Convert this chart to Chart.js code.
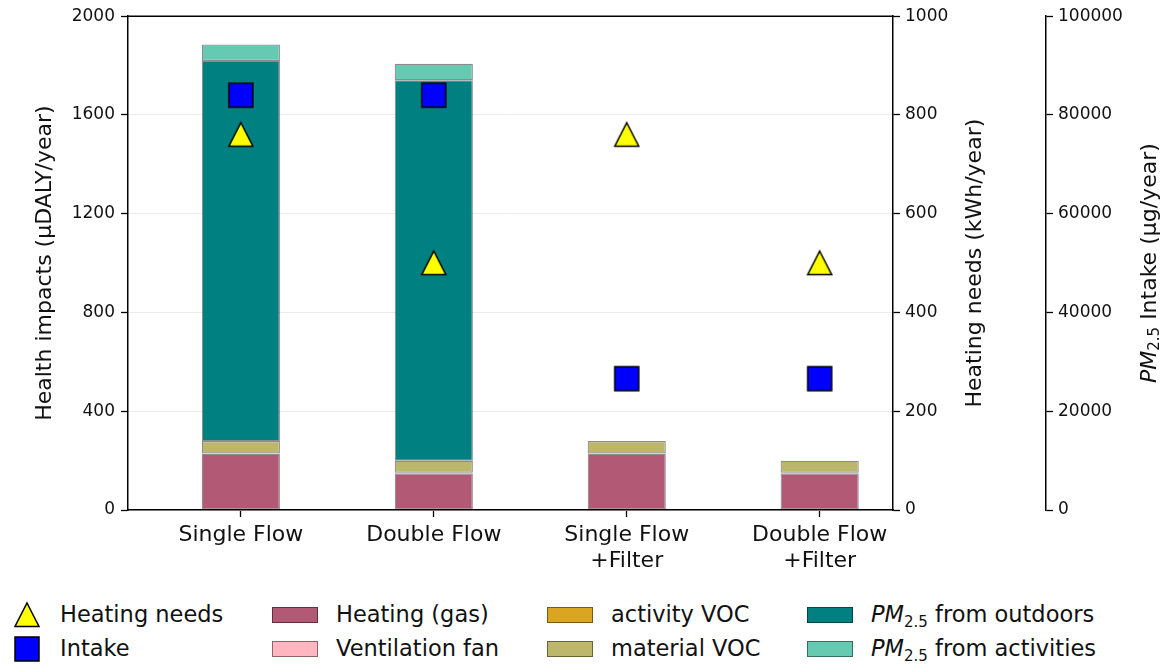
<!DOCTYPE html>
<html>
<head>
<meta charset="utf-8">
<script src="https://cdn.jsdelivr.net/npm/chart.js@4.4.0/dist/chart.umd.min.js"></script>
<style>
  html, body { margin:0; padding:0; background:#fff; }
  body { width:1164px; height:668px; position:relative; overflow:hidden; font-family:"DejaVu Sans", sans-serif; }
  #wrap { position:absolute; left:0; top:0; width:1164px; height:580px; }
  #legend { position:absolute; left:0; top:580px; width:1164px; height:88px; }
  .lg-item { position:absolute; font-size:22.5px; color:#111; white-space:nowrap; line-height:26px; }
  .lg-patch { position:absolute; width:46px; height:16px; box-sizing:border-box; border:1px solid rgba(0,0,0,0.45); }
  .lg-mark { position:absolute; }
  sub { font-size:15px; vertical-align:-5px; line-height:0; }
</style>
</head>
<body>
<div id="wrap"><canvas id="c" width="1164" height="580"></canvas></div>
<div id="legend"></div>
<script>
// ---------------- data ----------------
const categories = ['Single Flow', 'Double Flow', 'Single Flow +Filter', 'Double Flow +Filter'];
const categoryTickLabels = [['Single Flow'], ['Double Flow'], ['Single Flow', '+Filter'], ['Double Flow', '+Filter']];

const heatingGas      = [228, 148, 228, 148];
const ventilationFan  = [1, 3, 1, 3];
const activityVOC     = [0, 0, 0, 0];
const materialVOC     = [50, 48, 50, 48];
const pmOutdoors      = [1540, 1542, 0, 0];
const pmActivities    = [66, 66, 0, 0];

const heatingNeeds    = [760, 500, 760, 500];          // kWh/year
const pmIntake        = [84000, 84000, 26600, 26600];  // µg/year

const healthTicks  = [0, 400, 800, 1200, 1600, 2000];
const heatingTicks = [0, 200, 400, 600, 800, 1000];
const intakeTicks  = [0, 20000, 40000, 60000, 80000, 100000];

const barSeries = [
  { label: 'Heating (gas)',          data: heatingGas,     color: '#b25a75' },
  { label: 'Ventilation fan',        data: ventilationFan, color: '#ffb6c1' },
  { label: 'activity VOC',           data: activityVOC,    color: '#daa520' },
  { label: 'material VOC',           data: materialVOC,    color: '#bdb76b' },
  { label: 'PM2.5 from outdoors',    data: pmOutdoors,     color: '#008080' },
  { label: 'PM2.5 from activities',  data: pmActivities,   color: '#66c9b2' }
];
const pointSeries = [
  { label: 'Heating needs', data: heatingNeeds, axis: 'y1', marker: 'triangle' },
  { label: 'Intake',        data: pmIntake,     axis: 'y2', marker: 'square' }
];

// ---------------- markers ----------------
function makeMarker(kind) {
  const cv = document.createElement('canvas');
  cv.width = 28; cv.height = 28;
  const g = cv.getContext('2d');
  g.lineWidth = 1.5; g.strokeStyle = '#000';
  g.beginPath();
  if (kind === 'triangle') {
    g.moveTo(14, 2); g.lineTo(26, 25.5); g.lineTo(2, 25.5); g.closePath();
    g.fillStyle = '#ffff00';
  } else {
    g.rect(2, 2, 24, 24);
    g.fillStyle = '#0000ff';
  }
  g.fill(); g.stroke();
  return cv;
}

const FONT = '"DejaVu Sans", sans-serif';
const BAR_EDGE = 'rgba(0,0,0,0.45)';

const datasets = [];
pointSeries.forEach(s => {
  datasets.push({
    type: 'scatter',
    label: s.label,
    data: s.data.map((v, i) => ({ x: i, y: v })),
    yAxisID: s.axis,
    xAxisID: 'x',
    pointStyle: makeMarker(s.marker),
    pointRadius: 14,
    pointHoverRadius: 14,
    order: 0
  });
});
barSeries.forEach(s => {
  datasets.push({
    type: 'bar',
    label: s.label,
    data: s.data.map((v, i) => ({ x: i, y: v })),
    backgroundColor: s.color,
    borderColor: BAR_EDGE,
    borderWidth: 1.2,
    borderSkipped: false,
    yAxisID: 'y',
    xAxisID: 'x',
    barPercentage: 0.405,
    categoryPercentage: 1.0,
    order: 1
  });
});

function fixedTicks(arr) {
  return function(scale) { scale.ticks = arr.map(v => ({ value: v })); };
}
const plain = v => String(v);

const tickFont = { family: FONT, size: 17 };
const axisBorder = { color: '#000', width: 1.5 };

const framePlugin = {
  id: 'frame',
  afterDraw(chart) {
    const ctx = chart.ctx, a = chart.chartArea;
    ctx.save();
    ctx.strokeStyle = '#000'; ctx.lineWidth = 1.5;
    ctx.beginPath(); ctx.moveTo(a.left - 0.75, a.top); ctx.lineTo(a.right + 0.75, a.top); ctx.stroke();
    const cy = (a.top + a.bottom) / 2;
    function rot(x, parts) {
      ctx.save();
      ctx.translate(x, cy);
      ctx.rotate(-Math.PI / 2);
      ctx.textBaseline = 'middle';
      ctx.fillStyle = '#111';
      let total = 0;
      parts.forEach(p => { ctx.font = p.font; p.w = ctx.measureText(p.t).width; total += p.w; });
      let px = -total / 2;
      parts.forEach(p => { ctx.font = p.font; ctx.fillText(p.t, px, p.dy || 0); px += p.w; });
      ctx.restore();
    }
    const n = '22px ' + FONT;
    rot(chart.scales.y.left + 45, [{ t: 'Health impacts (µDALY/year)', font: n }]);
    rot(chart.scales.y1.left + 82, [{ t: 'Heating needs (kWh/year)', font: n }]);
    rot(chart.scales.y2.left + 104, [
      { t: 'PM', font: 'italic 22px ' + FONT },
      { t: '2.5', font: '15px ' + FONT, dy: 5 },
      { t: ' Intake (µg/year)', font: n }
    ]);
    ctx.restore();
  }
};

new Chart(document.getElementById('c'), {
  type: 'bar',
  data: { datasets },
  plugins: [framePlugin],
  options: {
    responsive: false,
    animation: false,
    events: [],
    layout: { padding: { top: 12.8, left: 0, right: 0, bottom: 0 } },
    plugins: { legend: { display: false }, tooltip: { enabled: false } },
    scales: {
      x: {
        type: 'linear', position: 'bottom', stacked: true, offset: false,
        min: -0.585, max: 3.38,
        afterBuildTicks: fixedTicks(categories.map((c, i) => i)),
        ticks: {
          callback: v => categoryTickLabels[v],
          font: { family: FONT, size: 22, lineHeight: 1.15 },
          color: '#111', padding: 6, maxRotation: 0, autoSkip: false
        },
        grid: { offset: false, drawOnChartArea: false, tickLength: 7, tickColor: '#000', tickWidth: 1.3 },
        border: axisBorder,
        afterFit: s => { s.height = 70; }
      },
      y: {
        type: 'linear', position: 'left', stacked: true,
        min: 0, max: 2000,
        afterBuildTicks: fixedTicks(healthTicks),
        ticks: { font: tickFont, color: '#111', padding: 6, callback: plain },
        grid: { color: '#ececec', lineWidth: 1, tickColor: '#000', tickLength: 7, tickWidth: 1.3 },
        border: axisBorder,
        afterFit: s => { s.width = 128; }
      },
      y1: {
        type: 'linear', position: 'right', weight: 0,
        min: 0, max: 1000,
        afterBuildTicks: fixedTicks(heatingTicks),
        ticks: { font: tickFont, color: '#111', padding: 5, callback: plain },
        grid: { drawOnChartArea: false, tickColor: '#000', tickLength: 7, tickWidth: 1.3 },
        border: axisBorder,
        afterFit: s => { s.width = 153; }
      },
      y2: {
        type: 'linear', position: 'right', weight: 1,
        min: 0, max: 100000,
        afterBuildTicks: fixedTicks(intakeTicks),
        ticks: { font: tickFont, color: '#111', padding: 5, callback: plain },
        grid: { drawOnChartArea: false, tickColor: '#000', tickLength: 7, tickWidth: 1.3 },
        border: axisBorder,
        afterFit: s => { s.width = 118; }
      }
    }
  }
});

// ---------------- legend (column-major, 2 rows) ----------------
(function buildLegend() {
  const lg = document.getElementById('legend');
  const entries = pointSeries.map(s => ({ kind: 'marker', s }))
    .concat(barSeries.map(s => ({ kind: 'patch', s })));
  const colPatchLeft = [15, 272, 547, 807];
  const rowCenter = [35, 69]; // relative to legend top (580)
  function fmt(label) {
    return label.replace('PM2.5', '<i>PM</i><sub>2.5</sub>');
  }
  entries.forEach((e, k) => {
    const col = Math.floor(k / 2), row = k % 2;
    const cy = rowCenter[row];
    const left = colPatchLeft[col];
    if (e.kind === 'marker') {
      const m = makeMarker(e.s.marker);
      m.className = 'lg-mark';
      m.style.left = (left - 2) + 'px';
      m.style.top = (cy - 14) + 'px';
      lg.appendChild(m);
    } else {
      const p = document.createElement('div');
      p.className = 'lg-patch';
      p.style.left = left + 'px';
      p.style.top = (cy - 8) + 'px';
      p.style.background = e.s.color;
      lg.appendChild(p);
    }
    const t = document.createElement('div');
    t.className = 'lg-item';
    t.innerHTML = fmt(e.s.label);
    t.style.left = (col === 0 ? 60 : left + 64) + 'px';
    t.style.top = (cy - 14) + 'px';
    lg.appendChild(t);
  });
})();
</script>
</body>
</html>
